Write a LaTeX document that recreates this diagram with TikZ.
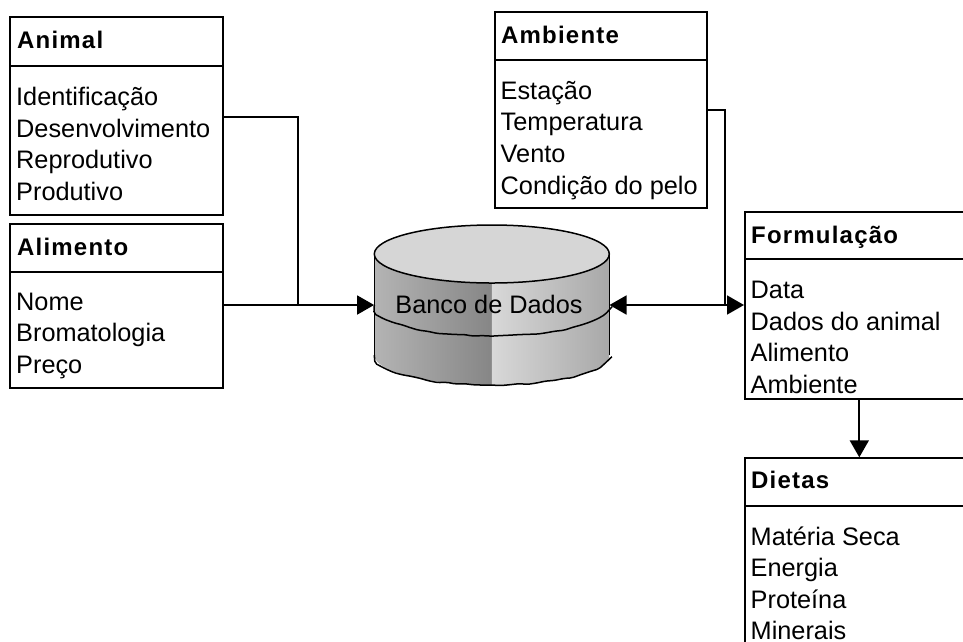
\documentclass[tikz,border=0pt]{standalone}
\usepackage{fontspec}
\setmainfont{Liberation Sans}
\newfontfamily\headfont[LetterSpace=5]{Liberation Sans}
\usetikzlibrary{arrows.meta,decorations.pathmorphing}
\definecolor{cylTop}{HTML}{D6D6D6}
\definecolor{cylLeftA}{HTML}{B4B4B4}
\definecolor{cylLeftB}{HTML}{868686}
\definecolor{cylRightA}{HTML}{D8D8D8}
\definecolor{cylRightB}{HTML}{A8A8A8}
\begin{document}
\begin{tikzpicture}[x=1pt,y=-1pt,
  frame/.style={draw=black, line width=1.8pt, rectangle, inner sep=0pt, anchor=north west},
  divider/.style={line width=1.8pt},
  title/.style={anchor=base west, inner sep=0pt, font=\fontsize{24}{28}\headfont\bfseries},
  item/.style={anchor=base west, inner sep=0pt, font=\fontsize{25.3}{30}\selectfont},
  link/.style={line width=1.8pt},
  tip/.style={-{Triangle[length=17pt,width=19pt]}},
  bothtips/.style={{Triangle[length=17pt,width=19pt]}-{Triangle[length=17pt,width=19pt]}},
  cyl/.style={line width=1.5pt},
  wobble/.style={decorate, decoration={random steps, segment length=9pt, amplitude=0.8pt}, rounded corners=2pt},
]
\useasboundingbox (0,0) rectangle (963,641);
\fill[white] (0,0) rectangle (963,641);

% ---- Animal
\node[frame, minimum width=213, minimum height=198] (animal) at (9,16) {};
\draw[divider] (animal.west |- 0,65.7) -- (animal.east |- 0,65.7);
\node[title] (animal-t) at (17,48) {Animal};
\node[item] (animal-1) at (16,105) {Identificação};
\node[item] (animal-2) at (16,137) {Desenvolvimento};
\node[item] (animal-3) at (16,168.5) {Reprodutivo};
\node[item] (animal-4) at (16,200) {Produtivo};

% ---- Alimento
\node[frame, minimum width=213, minimum height=164] (alimento) at (9,223) {};
\draw[divider] (alimento.west |- 0,272) -- (alimento.east |- 0,272);
\node[title] (alimento-t) at (17,255) {Alimento};
\node[item] (alimento-1) at (16,310) {Nome};
\node[item] (alimento-2) at (16,341.7) {Bromatologia};
\node[item] (alimento-3) at (16,373.3) {Preço};

% ---- Ambiente
\node[frame, minimum width=212, minimum height=196] (ambiente) at (494,10.7) {};
\draw[divider] (ambiente.west |- 0,60) -- (ambiente.east |- 0,60);
\node[title] (ambiente-t) at (501,43) {Ambiente};
\node[item] (ambiente-1) at (500.5,99) {Estação};
\node[item] (ambiente-2) at (500.5,130.5) {Temperatura};
\node[item] (ambiente-3) at (500.5,162.3) {Vento};
\node[item] (ambiente-4) at (500.5,194) {Condição do pelo};

% ---- Formulação
\node[frame, minimum width=300, minimum height=187.5] (formulacao) at (744,210.7) {};
\draw[divider] (formulacao.west |- 0,259.3) -- (formulacao.east |- 0,259.3);
\node[title] (formulacao-t) at (751,243.3) {Formulação};
\node[item] (formulacao-1) at (750.5,298) {Data};
\node[item] (formulacao-2) at (750.5,330) {Dados do animal};
\node[item] (formulacao-3) at (750.5,361.7) {Alimento};
\node[item] (formulacao-4) at (750.5,393) {Ambiente};

% ---- Dietas
\node[frame, minimum width=300, minimum height=250] (dietas) at (744,457.3) {};
\draw[divider] (dietas.west |- 0,506) -- (dietas.east |- 0,506);
\node[title] (dietas-t) at (751,488.3) {Dietas};
\node[item] (dietas-1) at (750.5,545) {Matéria Seca};
\node[item] (dietas-2) at (750.5,576.5) {Energia};
\node[item] (dietas-3) at (750.5,608) {Proteína};
\node[item] (dietas-4) at (750.5,639.5) {Minerais};

% ---- Database cylinder
\begin{scope}
  \clip (374.3,254) -- (374.3,355)
        arc[start angle=180, end angle=0, x radius=117.5, y radius=30]
        -- (609.3,254)
        arc[start angle=0, end angle=180, x radius=117.5, y radius=29] -- cycle;
  \shade[left color=cylLeftA, right color=cylLeftB] (374,220) rectangle (491.8,392);
  \shade[left color=cylRightA, right color=cylRightB] (491.8,220) rectangle (610,392);
\end{scope}
\draw[cyl] (374.3,254) -- (374.3,355);
\draw[cyl] (609.3,254) -- (609.3,355);
\draw[cyl, wobble] (374.3,355) arc[start angle=180, end angle=0, x radius=117.5, y radius=30];
\draw[cyl, wobble] (374.3,305) arc[start angle=180, end angle=0, x radius=117.5, y radius=31];
\draw[cyl, fill=cylTop] (491.8,254) ellipse [x radius=117.5, y radius=29];
\node[inner sep=0pt, minimum width=235, minimum height=160] (db) at (491.8,305) {};
\node[item, anchor=base] (db-label) at (489,313) {Banco de Dados};

% ---- Connectors
\coordinate (joinL) at (298.3,305);
\coordinate (joinR) at (725,305);
\draw[link] (animal.east |- 0,116.7) -| (joinL);
\draw[link, tip] (alimento.east |- joinL) -- (db.west);
\draw[link] (ambiente.east |- 0,110) -| (joinR);
\draw[link, bothtips] (db.east) -- (formulacao.west |- db.east);
\draw[link, tip] (859.3,0 |- formulacao.south) -- (859.3,0 |- dietas.north);
\end{tikzpicture}
\end{document}
